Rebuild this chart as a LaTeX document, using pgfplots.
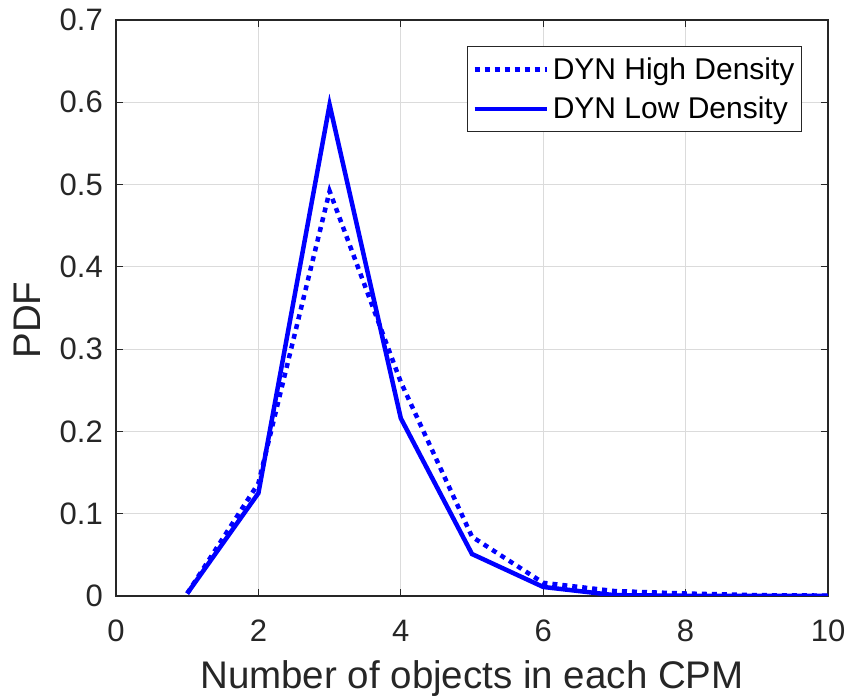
\documentclass[border=0pt]{standalone}
\usepackage{fontspec}
\setmainfont{Liberation Sans}
\usepackage{pgfplots}
\pgfplotsset{compat=1.18}
\definecolor{axgray}{gray}{0.15}
\begin{document}
\begin{tikzpicture}
\begin{axis}[
  scale only axis,
  width=712pt, height=576pt,
  xmin=0, xmax=10, ymin=0, ymax=0.7,
  xtick={0,2,...,10},
  ytick={0,0.1,...,0.7},
  yticklabel style={/pgf/number format/fixed,/pgf/number format/precision=1,
    inner sep=0pt, anchor=east, xshift=-13pt},
  xticklabel style={inner sep=0pt, anchor=north, yshift=-24pt},
  /pgf/number format/assume math mode=true,
  tick label style={font=\fontsize{31}{36}\selectfont, text=axgray},
  label style={font=\fontsize{38.5}{42}\selectfont, text=axgray},
  xlabel={Number of objects in each CPM},
  xlabel style={at={(axis description cs:0.5,0)}, anchor=base, yshift=-93pt},
  ylabel={PDF},
  ylabel style={at={(axis description cs:0,0.479)}, anchor=center, yshift=89pt},
  grid=major,
  major grid style={gray!28, line width=1pt},
  axis line style={axgray, line width=1.2pt},
  major tick length=7pt,
  tick style={axgray, line width=1.2pt},
  legend style={at={(rel axis cs:0.9635,0.955)}, anchor=north east, draw=axgray, line width=1pt,
    font=\fontsize{30}{34}\selectfont, inner xsep=5pt, inner ysep=9.5pt, row sep=12pt,
    nodes={inner sep=2pt}},
  legend cell align=left,
  legend image code/.code={\draw[#1] (0pt,0pt) -- (72pt,0pt);},
  /tikz/every odd column/.append style={column sep=2pt},
]
\addplot[blue, line width=4.5pt, dash pattern=on 5pt off 5pt] coordinates {
 (1,0.003) (2,0.137) (3,0.492) (4,0.26) (5,0.072) (6,0.016) (7,0.006) (8,0.003) (9,0.001) (10,0.0005)};
\addlegendentry{DYN High Density}
\addplot[blue, line width=4.5pt] coordinates {
 (1,0.003) (2,0.125) (3,0.597) (4,0.216) (5,0.051) (6,0.011) (7,0.001) (8,0.0003) (9,0.0001) (10,0)};
\addlegendentry{DYN Low Density}
\end{axis}
\pgfresetboundingbox
\path ([shift={(-116pt,-100pt)}]current axis.south west) rectangle ([shift={(30pt,20pt)}]current axis.north east);
\end{tikzpicture}
\end{document}
